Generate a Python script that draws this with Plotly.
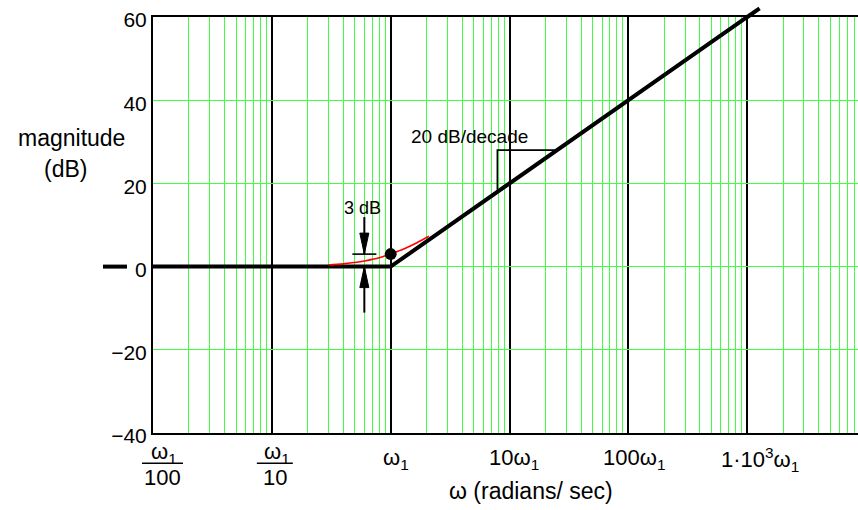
import math
import plotly.graph_objects as go

# ---------------- data ----------------
x_tick_vals = [0.01, 0.1, 1, 10, 100, 1000]
x_tick_top = ["ω<sub>1</sub>", "ω<sub>1</sub>", "ω<sub>1</sub>", "10ω<sub>1</sub>",
              "100ω<sub>1</sub>", "1·10<sup>3</sup>ω<sub>1</sub>"]
x_tick_bottom = ["100", "10", "", "", "", ""]
y_tick_vals = [-40, -20, 0, 20, 40, 60]
minor_digits = [2, 3, 4, 5, 6, 7, 8, 9]

# straight-line (asymptotic) Bode magnitude
asym_w = [0.003, 1, 1270]
asym_db = [0, 0, 62.1]
# exact magnitude curve near the corner
exact_w = [0.3, 0.4, 0.5, 0.6, 0.7, 0.8, 0.9, 1.0, 1.2, 1.4, 1.7, 2.1]
exact_db = [0.4, 0.65, 1.0, 1.35, 1.75, 2.15, 2.6, 3.0, 3.9, 4.7, 5.9, 7.3]
# 3 dB point
dot_w = [1]
dot_db = [3]
# slope triangle
slope_w = [7.9, 7.9, 25]
slope_db = [18.5, 28, 28]
# 3 dB bracket
bracket_w = [0.476, 0.758]
bracket_db = [3, 3]
arrow_w = 0.6

# ---------------- layout constants ----------------
W, H = 858, 510
ML, MR, MT, MB = 153, 0, 17, 77
XR = [-2, 3.932]
YR = [-40, 60]
PW = W - ML - MR
PH = H - MT - MB
FONT = "Liberation Sans, Arial, sans-serif"
GREEN = "#40ff40"


def xpaper(v, px=0.0):
    return (math.log10(v) - XR[0]) / (XR[1] - XR[0]) + px / PW


def ypaper(db):
    return (db - YR[0]) / (YR[1] - YR[0])


minor_vals = [d * t for t in x_tick_vals for d in minor_digits]

fig = go.Figure()
fig.add_trace(go.Scatter(x=asym_w, y=asym_db, mode="lines",
                         line=dict(color="black", width=4), hoverinfo="skip"))
fig.add_trace(go.Scatter(x=exact_w, y=exact_db, mode="lines",
                         line=dict(color="red", width=1.6, shape="spline"), hoverinfo="skip"))
fig.add_trace(go.Scatter(x=slope_w, y=slope_db, mode="lines",
                         line=dict(color="black", width=1.6), hoverinfo="skip"))
fig.add_trace(go.Scatter(x=bracket_w, y=bracket_db, mode="lines",
                         line=dict(color="black", width=1.6), hoverinfo="skip"))
fig.add_trace(go.Scatter(x=dot_w, y=dot_db, mode="markers",
                         marker=dict(color="black", size=12), hoverinfo="skip"))

shapes = []
# extension of asymptote outside the plot (left and top)
shapes.append(dict(type="line", xref="paper", yref="y",
                   x0=-50 / PW, x1=-26 / PW, y0=asym_db[0], y1=asym_db[0],
                   line=dict(color="black", width=4)))
shapes.append(dict(type="line", xref="x", yref="paper",
                   x0=1000, x1=asym_w[-1], y0=ypaper(60), y1=ypaper(asym_db[-1]),
                   line=dict(color="black", width=4)))
# 3 dB arrows
for anchor, sgn, shaft in [(bracket_db[0], 1, 37), (0, -1, 46)]:
    shapes.append(dict(type="line", xref="x", yref="y", xsizemode="pixel", ysizemode="pixel",
                       xanchor=arrow_w, yanchor=anchor, x0=0, x1=0, y0=0, y1=sgn * shaft,
                       line=dict(color="black", width=2)))
    shapes.append(dict(type="path", xref="x", yref="y", xsizemode="pixel", ysizemode="pixel",
                       xanchor=arrow_w, yanchor=anchor,
                       path=f"M0,0 L-4.5,{sgn*21} L4.5,{sgn*21} Z",
                       fillcolor="black", line=dict(color="black", width=1)))

annotations = []
# x tick labels
shifts = [10, 4, 5, 4, 6, 13]
bars = [(-11, 30), (-15, 21)]
TICKF = dict(size=22)
for i, (v, top, bot) in enumerate(zip(x_tick_vals, x_tick_top, x_tick_bottom)):
    if bot:
        annotations.append(dict(x=math.log10(v), y=-0.048, xref="x", yref="paper",
                                text=top, showarrow=False, xshift=shifts[i] + 1,
                                xanchor="center", yanchor="middle", font=TICKF))
        annotations.append(dict(x=math.log10(v), y=-0.1067, xref="x", yref="paper",
                                text=bot, showarrow=False, xshift=shifts[i] - 1,
                                xanchor="center", yanchor="middle", font=TICKF))
        b0, b1 = bars[i]
        shapes.append(dict(type="line", xref="paper", yref="paper",
                           x0=xpaper(v, b0), x1=xpaper(v, b1), y0=-0.0728, y1=-0.0728,
                           line=dict(color="black", width=1.5)))
    else:
        annotations.append(dict(x=math.log10(v), y=-0.0625, xref="x", yref="paper",
                                text=top, showarrow=False, xshift=shifts[i],
                                xanchor="center", yanchor="middle", font=TICKF))

annotations += [
    dict(x=-0.1163, y=0.708, xref="paper", yref="paper", text="magnitude",
         showarrow=False, xanchor="center", yanchor="middle", font=dict(size=23)),
    dict(x=-0.1248, y=0.635, xref="paper", yref="paper", text="(dB)",
         showarrow=False, xanchor="center", yanchor="middle", font=dict(size=23)),
    dict(x=0.536, y=-0.1387, xref="paper", yref="paper", text="ω (radians/ sec)",
         showarrow=False, xanchor="center", yanchor="middle", font=dict(size=23)),
    dict(x=math.log10(4.6), y=31.2, xref="x", yref="y", text="20 dB/decade",
         showarrow=False, xanchor="center", yanchor="middle", font=dict(size=19)),
    dict(x=math.log10(0.583), y=14.1, xref="x", yref="y", text="3 dB",
         showarrow=False, xanchor="center", yanchor="middle", font=dict(size=18)),
]

fig.update_layout(
    width=W, height=H,
    margin=dict(l=ML, r=MR, t=MT, b=MB, pad=0),
    paper_bgcolor="white", plot_bgcolor="white",
    showlegend=False,
    font=dict(family=FONT, color="black", size=20),
    shapes=shapes, annotations=annotations,
    xaxis=dict(type="log", range=XR, tickmode="array", tickvals=x_tick_vals,
               showticklabels=False, ticks="",
               showgrid=True, gridcolor="black", gridwidth=1.5,
               minor=dict(tickmode="array", tickvals=minor_vals, showgrid=True,
                          gridcolor=GREEN, gridwidth=1, ticks=""),
               showline=True, linecolor="black", linewidth=2, mirror=True,
               zeroline=False),
    yaxis=dict(range=YR, tickmode="array", tickvals=y_tick_vals,
               showgrid=True, gridcolor=GREEN, gridwidth=1, ticks="",
               ticklabelstandoff=0, ticklabelshift=3,
               tickfont=dict(size=21),
               showline=True, linecolor="black", linewidth=2, mirror=False,
               zeroline=False),
)

fig.write_html("out.html")
